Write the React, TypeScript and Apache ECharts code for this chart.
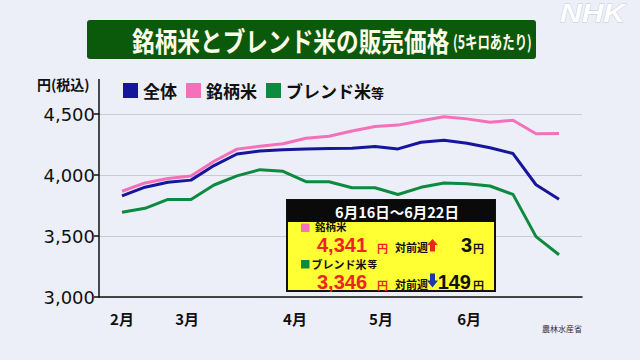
import React, { useEffect, useRef } from "react";
import * as echarts from "echarts";

// Weekly data (week starting dates), yen per 5kg incl. tax
const weekStarts = ["2/3", "2/10", "2/17", "2/24", "3/3", "3/10", "3/17", "3/24", "3/31", "4/7", "4/14", "4/21", "4/28", "5/5", "5/12", "5/19", "5/26", "6/2", "6/9", "6/16"];
const overallPrices = [3829, 3900, 3940, 3958, 4077, 4172, 4197, 4206, 4214, 4217, 4220, 4233, 4214, 4268, 4285, 4260, 4223, 4176, 3920, 3801];
const brandPrices = [3867, 3935, 3971, 3992, 4113, 4212, 4235, 4256, 4301, 4318, 4360, 4397, 4409, 4445, 4478, 4460, 4433, 4449, 4338, 4341];
const blendPrices = [3694, 3727, 3800, 3800, 3918, 3993, 4044, 4030, 3945, 3945, 3895, 3895, 3840, 3899, 3934, 3928, 3910, 3841, 3495, 3346];

const seriesNames = ["全体", "銘柄米", "ブレンド米等"];
const monthLabels = ["2月", "3月", "4月", "5月", "6月"];
const monthPositions = [0, 2.83, 7.52, 11.26, 15.09];
const periodLabel = "6月16日～6月22日";
const titleMain = "銘柄米とブレンド米の販売価格";
const titleSub = "(5キロあたり)";
const unitLabel = "円(税込)";
const sourceLabel = "農林水産省";

const CJK = "'Noto Sans CJK JP', 'Noto Sans', sans-serif";
const BLUE = "#16169c";
const PINK = "#f470b8";
const GREEN = "#0c8a3e";
const RED = "#f0241e";

const fmt = (v: number) => v.toLocaleString("en-US");

export default function App() {
  const ref = useRef<HTMLDivElement>(null);
  useEffect(() => {
    document.body.style.margin = "0";
    if (!ref.current) return;
    const chart = echarts.init(ref.current, null, { renderer: "svg" });
    const n = weekStarts.length;
    const brandLast = brandPrices[n - 1];
    const brandChg = brandPrices[n - 1] - brandPrices[n - 2];
    const blendLast = blendPrices[n - 1];
    const blendChg = blendPrices[n - 1] - blendPrices[n - 2];
    const toPts = (arr: number[]) => arr.map((v, i) => [i, v]);

    const txt = (x: number, y: number, text: string, size: number, fill: string, extra: any = {}) => ({
      type: "text",
      x,
      y,
      ...(extra.el || {}),
      style: {
        text,
        fontSize: size,
        lineHeight: size,
        fontWeight: "bold",
        fill,
        fontFamily: CJK,
        verticalAlign: "middle",
        align: "left",
        ...(extra.style || {}),
      },
    });
    const num = (x: number, y: number, text: string, fill: string, align = "left") =>
      txt(x, y, text, 20, fill, { style: { fontFamily: "'Liberation Sans', Arial, sans-serif", align } });

    const option: any = {
      animation: false,
      backgroundColor: "#eceef8",
      textStyle: { fontFamily: CJK },
      grid: { left: 99, right: 58, top: 114, bottom: 63, containLabel: false },
      legend: {
        left: 118,
        top: 77,
        itemWidth: 15,
        itemHeight: 15,
        itemGap: 9,
        icon: "rect",
        data: seriesNames,
        formatter: (name: string) =>
          name === "ブレンド米等" ? "{a|ブレンド米}{b|等}" : `{a|${name}}`,
        textStyle: {
          color: "#111",
          rich: {
            a: { fontSize: 17, fontWeight: "bold", color: "#111", fontFamily: CJK },
            b: { fontSize: 13, fontWeight: "bold", color: "#111", fontFamily: CJK, padding: [4, 0, 0, 0] },
          },
        },
      },
      xAxis: {
        type: "value",
        min: -1,
        max: 20,
        axisLine: { show: true, onZero: false, lineStyle: { color: "#111", width: 1.5 } },
        axisTick: { show: false },
        splitLine: { show: false },
        axisLabel: {
          customValues: monthPositions,
          formatter: (v: number) => {
            let best = 0;
            monthPositions.forEach((p, i) => {
              if (Math.abs(p - v) < Math.abs(monthPositions[best] - v)) best = i;
            });
            return monthLabels[best];
          },
          fontSize: 15,
          fontWeight: "bold",
          color: "#111",
          margin: 14,
          fontFamily: CJK,
        },
      },
      yAxis: {
        type: "value",
        min: 3000,
        max: 4500,
        interval: 500,
        axisLine: { show: true, onZero: false, lineStyle: { color: "#111", width: 1.5 } },
        axisTick: { show: true, length: 5, lineStyle: { color: "#111", width: 1.5 } },
        axisLabel: {
          fontFamily: "'DejaVu Sans', sans-serif",
          fontSize: 18,
          color: "#111",
          margin: 4,
          formatter: (v: number) => fmt(v),
        },
        splitLine: { show: true, lineStyle: { color: "#c8cad6", width: 1 } },
      },
      series: [
        { name: seriesNames[2], type: "line", data: toPts(blendPrices), symbol: "none", color: GREEN, lineStyle: { width: 3, color: GREEN } },
        { name: seriesNames[1], type: "line", data: toPts(brandPrices), symbol: "none", color: PINK, lineStyle: { width: 3, color: PINK } },
        { name: seriesNames[0], type: "line", data: toPts(overallPrices), symbol: "none", color: BLUE, lineStyle: { width: 3, color: BLUE } },
      ],
      graphic: [
        // title
        { type: "rect", shape: { x: 87, y: 20, width: 449, height: 39, r: 3 }, style: { fill: "#0b5a0b" } },
        txt(132, 40, titleMain, 27, "#fffbe8", { el: { scaleX: 0.84 } }),
        txt(453, 41, titleSub, 18, "#fffbe8", { el: { scaleX: 0.69 } }),
        // unit
        txt(37, 84, unitLabel, 14, "#111"),
        // y axis extension
        { type: "line", shape: { x1: 99, y1: 79, x2: 99, y2: 114 }, style: { stroke: "#111", lineWidth: 1.5 } },
        // info box
        { type: "rect", z: 10, shape: { x: 287, y: 200, width: 208, height: 91 }, style: { fill: "#ffff33", stroke: "#111", lineWidth: 2 } },
        { type: "rect", z: 10, shape: { x: 287, y: 200, width: 208, height: 22 }, style: { fill: "#0a0a0a" } },
        { ...txt(397, 211.5, periodLabel, 14.5, "#ffffff", { style: { align: "center" } }), z: 11 },
        { type: "rect", z: 11, shape: { x: 301, y: 223.5, width: 8.5, height: 8.5 }, style: { fill: "#ff70c0" } },
        { ...txt(315, 226.8, seriesNames[1], 10.5, "#111"), z: 11 },
        { ...num(317, 245, fmt(brandLast), RED), z: 11 },
        { ...txt(377, 247.5, "円", 11, RED), z: 11 },
        { ...txt(395, 246.5, "対前週", 11, "#111"), z: 11 },
        {
          type: "polygon", z: 11,
          shape: { points: [[432.5, 239], [438, 245], [435, 245], [435, 251.5], [430, 251.5], [430, 245], [427, 245]] },
          style: { fill: RED },
        },
        { ...num(472, 245, fmt(Math.abs(brandChg)), "#111", "right"), z: 11 },
        { ...txt(473, 247.5, "円", 11, "#111"), z: 11 },
        { type: "rect", z: 11, shape: { x: 301, y: 260, width: 8.5, height: 8.5 }, style: { fill: "#0a8a40" } },
        {
          type: "text", z: 11, x: 311.5, y: 264,
          style: {
            text: "{a|ブレンド米}{b|等}",
            verticalAlign: "middle",
            rich: {
              a: { fontSize: 11, lineHeight: 11, fontWeight: "bold", fill: "#111", fontFamily: CJK },
              b: { fontSize: 9.5, lineHeight: 11, fontWeight: "bold", fill: "#111", fontFamily: CJK, padding: [0, 0, 0, 1] },
            },
          },
        },
        { ...num(317, 282.3, fmt(blendLast), RED), z: 11 },
        { ...txt(377, 284.5, "円", 11, RED), z: 11 },
        { ...txt(395, 283.5, "対前週", 11, "#111"), z: 11 },
        {
          type: "polygon", z: 11,
          shape: { points: [[430, 273.5], [435, 273.5], [435, 280.5], [438, 280.5], [432.5, 287.5], [427, 280.5], [430, 280.5]] },
          style: { fill: "#1c3aa6" },
        },
        { ...num(471, 282.3, fmt(Math.abs(blendChg)), "#111", "right"), z: 11 },
        { ...txt(473, 284.5, "円", 11, "#111"), z: 11 },
        // source
        txt(542, 328, sourceLabel, 8, "#333", { style: { fontWeight: "normal" } }),
        // logo
        {
          type: "text", x: 560, y: 1, scaleX: 1.2,
          style: {
            text: "NHK", fontSize: 25, fontWeight: "bold", fontStyle: "italic",
            fontFamily: "'Liberation Sans', Arial, sans-serif",
            fill: "#ffffff", stroke: "rgba(170,175,195,0.6)", lineWidth: 0.8,
            verticalAlign: "top",
          },
        },
      ],
    };
    chart.setOption(option);
    return () => chart.dispose();
  }, []);
  return (
    <div
      ref={ref}
      style={{ position: "absolute", left: 0, top: 0, width: 640, height: 360 }}
    />
  );
}
